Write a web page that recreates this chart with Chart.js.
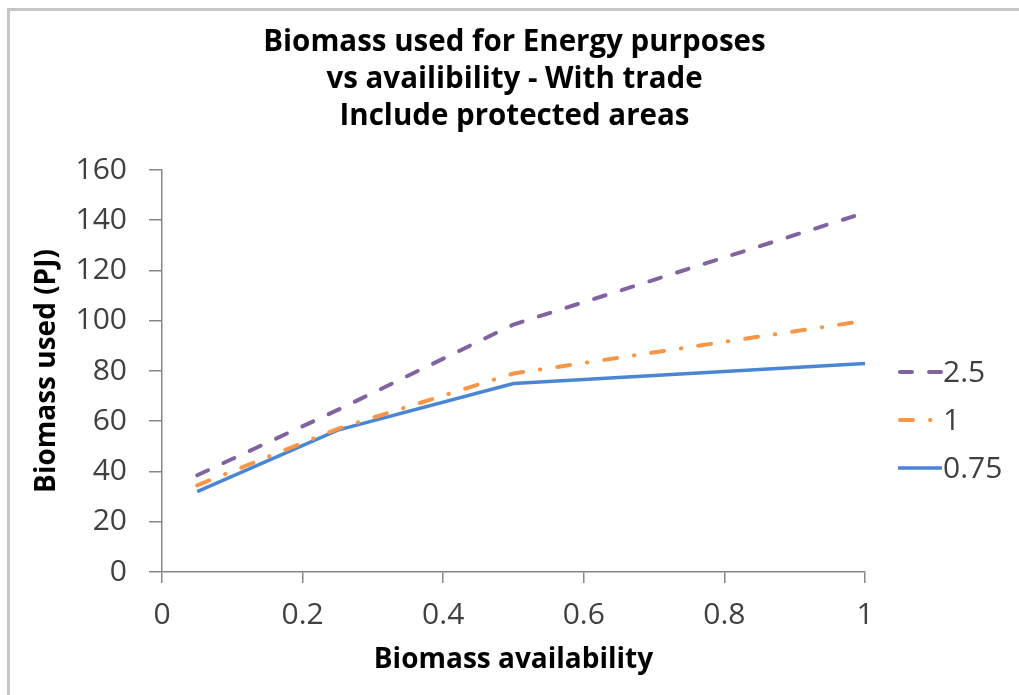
<!DOCTYPE html>
<html>
<head>
<meta charset="utf-8">
<script src="https://cdn.jsdelivr.net/npm/chart.js@4.4.1/dist/chart.umd.min.js"></script>
<style>
    html, body { margin: 0; padding: 0; background: #fff; }
    #wrap { position: relative; width: 1019px; height: 695px; overflow: hidden; }
    #frame { position: absolute; left: 7px; top: 8px; width: 1100px; height: 800px;
             border-top: 3px solid #c6c6c6; border-left: 3px solid #c6c6c6; box-sizing: border-box; }
    canvas { position: absolute; left: 0; top: 0; }
</style>
</head>
<body>
<div id="wrap">
    <div id="frame"></div>
    <canvas id="biomassChart" width="1019" height="695"></canvas>
</div>
<script>
// Biomass availability (x) and biomass used (PJ) per series
const availability = [0.05, 0.25, 0.5, 1];
const used25 = [38.5, 64.5, 98.5, 143];
const used1 = [34.5, 57, 79, 100];
const used075 = [32, 56.5, 75, 83];
const seriesNames = ['2.5', '1', '0.75'];

const FONT = "'Open Sans', sans-serif";
const TEXT = '#404040';

function points(values) {
    return availability.map((a, i) => ({ x: a, y: values[i] }));
}

// simple legend drawn on the right, like the Excel one
const sideLegend = {
    id: 'sideLegend',
    afterDraw(chart) {
        const ctx = chart.ctx;
        chart.data.datasets.forEach((ds, i) => {
            const y = 372 + i * 48;
            ctx.save();
            ctx.strokeStyle = ds.borderColor;
            ctx.lineWidth = ds.borderWidth;
            ctx.lineCap = ds.borderCapStyle || 'butt';
            ctx.setLineDash(ds.borderDash || []);
            ctx.beginPath();
            ctx.moveTo(ds.borderDash ? 900 : 898, y);
            ctx.lineTo(942, y);
            ctx.stroke();
            ctx.setLineDash([]);
            ctx.fillStyle = TEXT;
            ctx.font = '30px ' + FONT;
            ctx.textBaseline = 'middle';
            ctx.fillText(ds.label, 943, y + 1);
            ctx.restore();
        });
    }
};

const ctx = document.getElementById('biomassChart').getContext('2d');
const biomassChart = new Chart(ctx, {
    type: 'line',
    data: {
        datasets: [{
            label: seriesNames[0],
            data: points(used25),
            borderColor: '#8064a2',
            borderWidth: 4,
            borderDash: [12, 17],
            borderCapStyle: 'round',
            pointRadius: 0
        }, {
            label: seriesNames[1],
            data: points(used1),
            borderColor: '#f79646',
            borderWidth: 4,
            borderDash: [13, 17, 0.5, 17],
            borderCapStyle: 'round',
            pointRadius: 0
        }, {
            label: seriesNames[2],
            data: points(used075),
            borderColor: '#4a86d4',
            borderWidth: 3.5,
            pointRadius: 0
        }]
    },
    plugins: [sideLegend],
    options: {
        responsive: false,
        animation: false,
        layout: { padding: { left: 10, right: 0, top: 0, bottom: 18 } },
        plugins: {
            legend: { display: false },
            tooltip: { enabled: false },
            title: {
                display: true,
                text: ['Biomass used for Energy purposes', 'vs availibility - With trade', 'Include protected areas'],
                color: '#000',
                font: { family: FONT, size: 29.5, weight: 'bold', lineHeight: 1.254 },
                padding: { top: 24, bottom: 35 }
            }
        },
        scales: {
            x: {
                type: 'linear',
                min: 0,
                max: 1,
                ticks: {
                    stepSize: 0.2,
                    color: TEXT,
                    font: { family: FONT, size: 30 },
                    padding: 14,
                    maxRotation: 0,
                    callback: v => String(+v.toFixed(1))
                },
                grid: { drawOnChartArea: false, color: '#868686', tickLength: 11, lineWidth: 1.5 },
                border: { color: '#868686', width: 1.5 },
                title: {
                    display: true,
                    text: 'Biomass availability',
                    color: '#000',
                    font: { family: FONT, size: 28, weight: 'bold' },
                    padding: { top: 10, bottom: 0 }
                },
                afterFit: scale => { scale.height = 105; }
            },
            y: {
                min: 0,
                max: 160,
                ticks: {
                    stepSize: 20,
                    color: TEXT,
                    font: { family: FONT, size: 30 },
                    padding: 22
                },
                grid: { drawOnChartArea: false, color: '#868686', tickLength: 13, lineWidth: 1.5 },
                border: { color: '#868686', width: 1.5 },
                title: {
                    display: true,
                    text: 'Biomass used (PJ)',
                    color: '#000',
                    font: { family: FONT, size: 28, weight: 'bold' },
                    padding: { top: 20, bottom: 0 }
                },
                afterFit: scale => { scale.width = 152; }
            },
            // empty axis on the right, only keeps room for the legend
            yLegend: {
                position: 'right',
                display: true,
                ticks: { display: false },
                grid: { display: false },
                border: { display: false },
                afterFit: scale => { scale.width = 154; }
            }
        }
    }
});
</script>
</body>
</html>
